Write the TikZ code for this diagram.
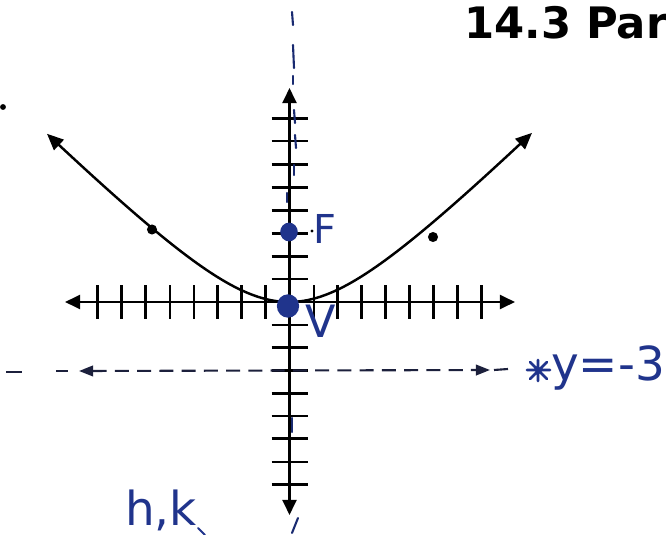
\documentclass[tikz,border=0pt]{standalone}
\usepackage{fontspec}
\setmainfont{DejaVu Sans}
\usetikzlibrary{arrows.meta}
\definecolor{ink}{RGB}{32,52,140}
\definecolor{dashink}{RGB}{28,32,60}
\begin{document}
\begin{tikzpicture}[x=0.03cm,y=-0.03cm,
  axisline/.style={line width=2.2pt,{Triangle[length=13pt,width=12pt]}-{Triangle[length=13pt,width=12pt]}},
  tickline/.style={line width=2.1pt},
  curveline/.style={line width=2.1pt,{Triangle[length=14pt,width=12pt]}-{Triangle[length=14pt,width=12pt]}},
  directrix/.style={dashink,line width=1.8pt,dash pattern=on 12pt off 7pt},
  hand/.style={ink,anchor=base west,inner sep=0pt},
  symdash/.style={ink!80!black,line width=1.8pt,line cap=round}]
\useasboundingbox (0,0) rectangle (666,535);
\clip (0,0) rectangle (666,535);

% title
\node[anchor=base west,inner sep=0pt,font=\fontsize{37}{40}\selectfont\bfseries] (title) at (464,39) {14.3 Par};

% axes
\coordinate (xl) at (65,302);
\coordinate (xr) at (515,302);
\coordinate (yt) at (289.5,88);
\coordinate (yb) at (289.5,515);
\draw[axisline] (xl) -- (xr);
\draw[axisline] (yt) -- (yb);

% ticks on x axis
\foreach \x in {97.7,121.7,145.7,170,194,217.7,241.7,265.7,314,337.7,361.7,385.7,409.3,433.3,457.3,481.3}
  \draw[tickline] (\x,285) -- (\x,319);
% ticks on y axis
\foreach \y in {118.3,141,164.7,187.7,210.7,233.3,256.7,279,325,347.7,370.7,393.3,416,438.7,462,484.3}
  \draw[tickline] (271.5,\y) -- (307.5,\y);

% symmetry line marks (hand drawn)
\draw[symdash] (292,12) -- (293,25);
\draw[symdash] (293,45) -- (294,68);
\draw[symdash] (293,76) -- (293,84);
\draw[symdash] (294,110) -- (295,123);
\draw[symdash] (295,135) -- (296,148);
\draw[symdash] (294,165) -- (294,175);
\draw[symdash] (287,193) -- (287,202);
\draw[symdash] (292,418) -- (292,432);
\draw[symdash] (298,518) -- (292,533);

% directrix
\draw[dashink,line width=1.8pt] (6,372) -- (22,372);
\draw[dashink,line width=1.8pt] (56,371) -- (68,371);
\coordinate (dl) at (79,371);
\coordinate (dr) at (490,370);
\draw[directrix,{Triangle[length=12pt,width=9pt]}-{Triangle[length=12pt,width=9pt]}] (dl) -- (dr);
\draw[dashink,line width=1.8pt] (494,370) -- (508,369);
% scribble before the label
\draw[ink,line width=2.2pt,line cap=round] (527,370) -- (550,370) (538,360) -- (538,381) (530,362) -- (547,379) (547,362) -- (530,379);
\node[hand,font=\fontsize{40}{44}\selectfont] (ylab) at (551,380) {y=-3};

% parabola
\draw[curveline] plot[domain=-242:243,samples=120,smooth] ({289+\x},{302-90*(sqrt(1+(\x/90)^2)-1)});
\fill (152,229.5) circle[radius=4.3pt];
\fill (433,237) circle[radius=4.3pt];

% focus and vertex
\fill[ink] (289,232) ellipse[x radius=7.5pt,y radius=8pt];
\fill[ink] (288,306) ellipse[x radius=9.5pt,y radius=10pt];
\fill (312,231) circle[radius=1.3pt];
\node[hand,font=\fontsize{34}{40}\selectfont] (F) at (313,243) {F};
\node[hand,font=\fontsize{38}{42}\selectfont] (V) at (305,337) {V};

% h,k
\node[hand,font=\fontsize{40}{44}\selectfont] (hk) at (125,525) {h,k};
\draw[ink,line width=1.8pt,line cap=round] (198,528) -- (205,535);

% stray dot at left edge
\fill (3,107) circle[radius=2.5pt];
\end{tikzpicture}
\end{document}
